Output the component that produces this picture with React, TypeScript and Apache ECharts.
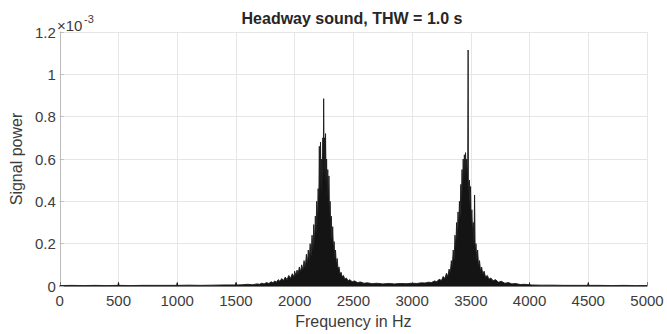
import React, { useEffect, useRef } from "react";
import * as echarts from "echarts";

const chartTitle = "Headway sound, THW = 1.0 s";
const xAxisName = "Frequency in Hz";
const yAxisName = "Signal power";
const yExponent = "-3";

// Frequency (Hz) and signal power (x 10^-3)
const freqHz = [
  0, 100, 200, 300, 400, 495, 500, 505, 600, 700, 800, 900, 995, 1000, 1005, 1100, 1200, 1300, 1400, 1495,
  1500, 1505, 1560, 1600, 1640, 1680, 1700, 1720, 1740, 1760, 1780, 1800, 1815, 1830, 1845, 1860, 1875, 1890, 1905, 1920,
  1935, 1950, 1965, 1980, 1995, 2000, 2010, 2020, 2030, 2040, 2050, 2060, 2070, 2080, 2090, 2100, 2108, 2116, 2124, 2132,
  2140, 2148, 2156, 2163, 2170, 2176, 2182, 2188, 2194, 2200, 2205, 2210, 2215, 2220, 2225, 2230, 2235, 2240, 2244, 2247,
  2251, 2255, 2259, 2263, 2268, 2272, 2277, 2282, 2287, 2292, 2297, 2302, 2307, 2312, 2318, 2324, 2330, 2336, 2342, 2348,
  2355, 2362, 2370, 2378, 2386, 2395, 2405, 2415, 2428, 2440, 2455, 2470, 2490, 2510, 2535, 2560, 2590, 2620, 2660, 2700,
  2750, 2800, 2850, 2900, 2950, 3000, 3040, 3080, 3110, 3140, 3165, 3190, 3210, 3230, 3250, 3265, 3280, 3292, 3304, 3315,
  3325, 3334, 3342, 3350, 3358, 3365, 3372, 3379, 3385, 3391, 3397, 3403, 3409, 3415, 3420, 3425, 3430, 3435, 3440, 3445,
  3450, 3455, 3460, 3465, 3470, 3474, 3477, 3479, 3483, 3488, 3493, 3498, 3503, 3509, 3515, 3521, 3527, 3532, 3537, 3544,
  3551, 3558, 3566, 3574, 3583, 3592, 3602, 3613, 3625, 3640, 3655, 3670, 3690, 3710, 3735, 3760, 3790, 3820, 3850, 3880,
  3920, 3960, 3995, 4000, 4005, 4100, 4200, 4300, 4400, 4495, 4500, 4505, 4600, 4700, 4800, 4900, 5000,
];
const powerE3 = [
  0.002, 0.003, 0.002, 0.003, 0.002, 0.003, 0.016, 0.003, 0.002, 0.003, 0.003, 0.003, 0.003, 0.015, 0.003, 0.004, 0.003, 0.004, 0.005, 0.005,
  0.016, 0.005, 0.006, 0.008, 0.006, 0.01, 0.008, 0.013, 0.01, 0.016, 0.012, 0.02, 0.015, 0.024, 0.018, 0.03, 0.022, 0.035, 0.026, 0.042,
  0.03, 0.05, 0.036, 0.058, 0.042, 0.07, 0.05, 0.075, 0.058, 0.09, 0.065, 0.1, 0.075, 0.12, 0.085, 0.15, 0.1, 0.17, 0.12, 0.2,
  0.14, 0.24, 0.17, 0.29, 0.2, 0.33, 0.25, 0.4, 0.3, 0.46, 0.35, 0.66, 0.42, 0.68, 0.45, 0.6, 0.5, 0.7, 0.55, 0.885,
  0.58, 0.7, 0.5, 0.72, 0.48, 0.6, 0.42, 0.55, 0.38, 0.52, 0.32, 0.4, 0.27, 0.33, 0.22, 0.28, 0.17, 0.21, 0.13, 0.17,
  0.1, 0.13, 0.075, 0.09, 0.055, 0.065, 0.042, 0.05, 0.032, 0.038, 0.025, 0.03, 0.02, 0.024, 0.016, 0.019, 0.013, 0.015, 0.011, 0.013,
  0.01, 0.012, 0.01, 0.012, 0.011, 0.013, 0.012, 0.015, 0.014, 0.018, 0.016, 0.024, 0.02, 0.032, 0.026, 0.045, 0.035, 0.06, 0.045, 0.08,
  0.06, 0.12, 0.09, 0.17, 0.12, 0.24, 0.18, 0.3, 0.22, 0.35, 0.27, 0.4, 0.32, 0.48, 0.38, 0.55, 0.45, 0.6, 0.5, 0.62,
  0.52, 0.63, 0.55, 0.6, 0.5, 0.58, 1.115, 0.5, 0.45, 0.5, 0.38, 0.47, 0.3, 0.36, 0.25, 0.3, 0.2, 0.43, 0.16, 0.2,
  0.12, 0.17, 0.09, 0.12, 0.07, 0.09, 0.055, 0.07, 0.042, 0.05, 0.032, 0.038, 0.025, 0.03, 0.018, 0.022, 0.013, 0.016, 0.01, 0.012,
  0.007, 0.008, 0.006, 0.012, 0.005, 0.004, 0.004, 0.003, 0.003, 0.003, 0.015, 0.003, 0.003, 0.002, 0.003, 0.002, 0.002,
];

const FONT = "'Liberation Sans', Arial, Helvetica, sans-serif";
const TXT = "#3c3c3c";

export default function App() {
  const ref = useRef<HTMLDivElement>(null);
  useEffect(() => {
    const chart = echarts.init(ref.current!, null, { renderer: "svg" });
    const data = freqHz.map((f, i) => [f, powerE3[i]]);
    chart.setOption({
      animation: false,
      backgroundColor: "#ffffff",
      textStyle: { fontFamily: FONT },
      grid: { left: 56, right: 20, top: 32, bottom: 41, containLabel: false },
      graphic: [
        {
          type: "text",
          x: 352,
          y: 10,
          style: {
            text: chartTitle,
            fontFamily: FONT,
            fontSize: 16,
            fontWeight: "bold",
            fill: "#262626",
            textAlign: "center",
          },
        },
        {
          type: "text",
          x: 57,
          y: 18,
          style: { text: "×10", fontFamily: FONT, fontSize: 15, fill: TXT },
        },
        {
          type: "text",
          x: 84,
          y: 13,
          style: { text: yExponent, fontFamily: FONT, fontSize: 11, fill: TXT },
        },
      ],
      xAxis: {
        type: "value",
        min: 0,
        max: 5000,
        interval: 500,
        name: xAxisName,
        nameLocation: "middle",
        nameGap: 27,
        nameTextStyle: { fontSize: 16, color: TXT, fontFamily: FONT },
        axisLine: { show: true, lineStyle: { color: "#7a7a7a", width: 1 } },
        axisTick: { show: true, inside: true, length: 4, lineStyle: { color: "#7a7a7a" } },
        axisLabel: {
          fontSize: 15,
          color: TXT,
          margin: 7,
          fontFamily: FONT,
          formatter: (v: number) => String(v),
        },
        splitLine: { show: true, lineStyle: { color: "#e6e6e6", width: 1 } },
      },
      yAxis: {
        type: "value",
        min: 0,
        max: 1.2,
        interval: 0.2,
        name: yAxisName,
        nameLocation: "middle",
        nameGap: 33,
        nameTextStyle: { fontSize: 16, color: TXT, fontFamily: FONT },
        axisLine: { show: true, lineStyle: { color: "#bdbdbd", width: 1 } },
        axisTick: { show: true, inside: true, length: 4, lineStyle: { color: "#bdbdbd" } },
        axisLabel: {
          fontSize: 15,
          color: TXT,
          margin: 4,
          fontFamily: FONT,
          formatter: (v: number) => String(Number(v.toFixed(1))),
        },
        splitLine: { show: true, lineStyle: { color: "#e6e6e6", width: 1 } },
      },
      series: [
        {
          type: "line",
          data,
          symbol: "none",
          showSymbol: false,
          lineStyle: { color: "#1a1a1a", width: 0.9 },
          areaStyle: { color: "#141414", opacity: 1 },
          z: 3,
        },
      ],
    });
    return () => chart.dispose();
  }, []);
  return (
    <div
      ref={ref}
      style={{ position: "fixed", left: 0, top: 0, width: 667, height: 334, background: "#fff" }}
    />
  );
}
